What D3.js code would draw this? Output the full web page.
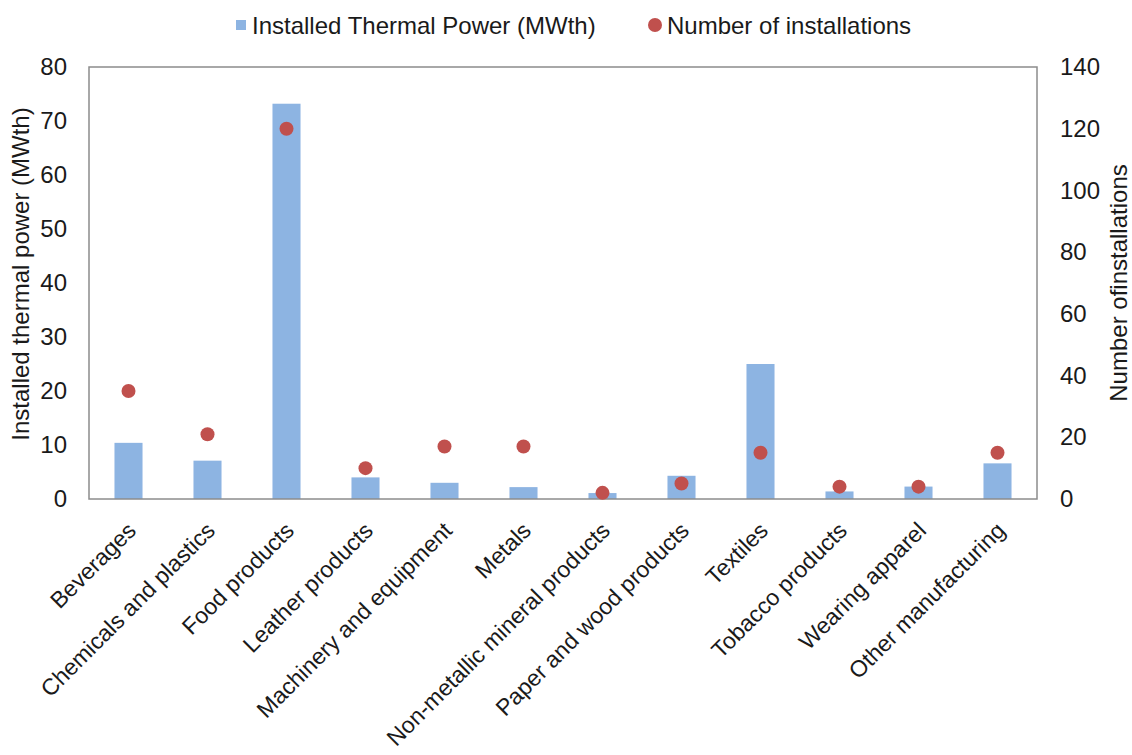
<!DOCTYPE html>
<html>
<head>
<meta charset="utf-8">
<script src="https://cdn.jsdelivr.net/npm/d3@7"></script>
<style>
  html, body { margin: 0; padding: 0; background: #fff; }
  svg { display: block; font-family: Arial, "Liberation Sans", sans-serif; }
</style>
</head>
<body>
<svg id="chart" width="1132" height="755"></svg>
<script>
// Industrial sectors
const categories = [
  "Beverages", "Chemicals and plastics", "Food products", "Leather products",
  "Machinery and equipment", "Metals", "Non-metallic mineral products",
  "Paper and wood products", "Textiles", "Tobacco products",
  "Wearing apparel", "Other manufacturing"
];
// Installed thermal power per sector (MWth) — left axis
const thermalPower = [10.4, 7.1, 73.2, 4.0, 3.0, 2.2, 1.1, 4.3, 25.0, 1.4, 2.3, 6.6];
// Number of installations per sector — right axis
const installations = [35, 21, 120, 10, 17, 17, 2, 5, 15, 4, 4, 15];
// Axis ticks
const leftTicks = [0, 10, 20, 30, 40, 50, 60, 70, 80];
const rightTicks = [0, 20, 40, 60, 80, 100, 120, 140];

const svg = d3.select("#chart");
const m = { left: 89, right: 1037, top: 67, bottom: 499 };
const fs = 24;

const x = d3.scaleBand().domain(categories).range([m.left, m.right]).paddingInner(0.645).paddingOuter(0.3225);
const yL = d3.scaleLinear().domain([0, 80]).range([m.bottom, m.top]);
const yR = d3.scaleLinear().domain([0, 140]).range([m.bottom, m.top]);

const barColor = "#8db4e2";
const dotColor = "#c0504d";
const textColor = "#1a1a1a";

// Bars
svg.append("g").selectAll("rect").data(categories).join("rect")
  .attr("x", d => x(d))
  .attr("width", x.bandwidth())
  .attr("y", (d, i) => yL(thermalPower[i]))
  .attr("height", (d, i) => yL(0) - yL(thermalPower[i]))
  .attr("fill", barColor);

// Plot frame
svg.append("rect")
  .attr("x", m.left).attr("y", m.top)
  .attr("width", m.right - m.left).attr("height", m.bottom - m.top)
  .attr("fill", "none").attr("stroke", "#8c8c8c").attr("stroke-width", 1.5);

// Installation markers
svg.append("g").selectAll("circle").data(categories).join("circle")
  .attr("cx", d => x(d) + x.bandwidth() / 2)
  .attr("cy", (d, i) => yR(installations[i]))
  .attr("r", 7)
  .attr("fill", dotColor);

// Left axis
const gL = svg.append("g").attr("transform", `translate(${m.left},0)`)
  .call(d3.axisLeft(yL).tickValues(leftTicks).tickSize(0).tickPadding(22));
gL.select(".domain").remove();
gL.selectAll("text").attr("font-size", fs).attr("fill", textColor).attr("font-family", "Arial, 'Liberation Sans', sans-serif");

// Right axis
const gR = svg.append("g").attr("transform", `translate(${m.right},0)`)
  .call(d3.axisRight(yR).tickValues(rightTicks).tickSize(0).tickPadding(23));
gR.select(".domain").remove();
gR.selectAll("text").attr("font-size", fs).attr("fill", textColor).attr("font-family", "Arial, 'Liberation Sans', sans-serif");

// Category labels, rotated
svg.append("g").selectAll("text").data(categories).join("text")
  .attr("transform", d => `translate(${x(d) + x.bandwidth() / 2 + 9},${m.bottom + 33}) rotate(-45)`)
  .attr("text-anchor", "end")
  .attr("font-size", 23)
  .attr("fill", textColor)
  .text(d => d);

// Axis titles
svg.append("text")
  .attr("transform", `translate(29,${(m.top + m.bottom) / 2 - 9}) rotate(-90)`)
  .attr("text-anchor", "middle")
  .attr("font-size", fs)
  .attr("fill", textColor)
  .text("Installed thermal power (MWth)");

svg.append("text")
  .attr("transform", `translate(1127,${(m.top + m.bottom) / 2}) rotate(-90)`)
  .attr("text-anchor", "middle")
  .attr("font-size", fs)
  .attr("fill", textColor)
  .text("Number ofinstallations");

// Legend
const leg = svg.append("g");
leg.append("rect").attr("x", 236).attr("y", 20).attr("width", 10).attr("height", 10).attr("fill", barColor);
leg.append("text").attr("x", 252).attr("y", 34).attr("font-size", fs).attr("fill", textColor)
  .text("Installed Thermal Power (MWth)");
leg.append("circle").attr("cx", 655).attr("cy", 25).attr("r", 7).attr("fill", dotColor);
leg.append("text").attr("x", 667).attr("y", 34).attr("font-size", fs).attr("fill", textColor)
  .text("Number of installations");
</script>
</body>
</html>
